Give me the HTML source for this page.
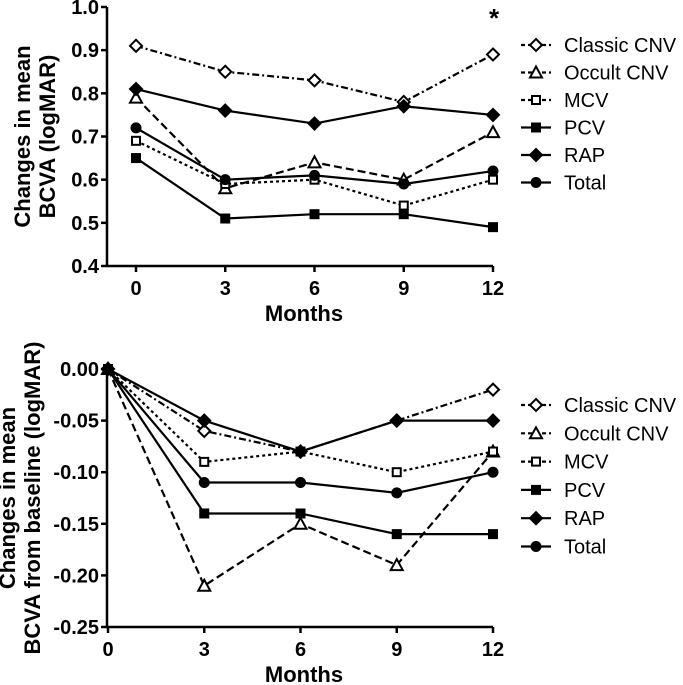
<!DOCTYPE html>
<html><head><meta charset="utf-8"><style>
body{margin:0;background:#fff;}
svg{display:block;font-family:"Liberation Sans",Arial,sans-serif;}
</style></head><body>
<svg id="c" width="683" height="685"></svg>
<script>
const months=[0,3,6,9,12];
const seriesNames=["Classic CNV","Occult CNV","MCV","PCV","RAP","Total"];
const topClassic=[0.91,0.85,0.83,0.78,0.89];
const topOccult=[0.79,0.58,0.64,0.60,0.71];
const topMCV=[0.69,0.59,0.60,0.54,0.60];
const topPCV=[0.65,0.51,0.52,0.52,0.49];
const topRAP=[0.81,0.76,0.73,0.77,0.75];
const topTotal=[0.72,0.60,0.61,0.59,0.62];
const botClassic=[0,-0.06,-0.08,-0.05,-0.02];
const botOccult=[0,-0.21,-0.15,-0.19,-0.08];
const botMCV=[0,-0.09,-0.08,-0.10,-0.08];
const botPCV=[0,-0.14,-0.14,-0.16,-0.16];
const botRAP=[0,-0.05,-0.08,-0.05,-0.05];
const botTotal=[0,-0.11,-0.11,-0.12,-0.10];
const topTicks=["0.4","0.5","0.6","0.7","0.8","0.9","1.0"];
const botTicks=["0.00","-0.05","-0.10","-0.15","-0.20","-0.25"];

const NS="http://www.w3.org/2000/svg";
const svg=document.getElementById('c');
function el(tag,attrs,parent,text){const e=document.createElementNS(NS,tag);for(const k in attrs)e.setAttribute(k,attrs[k]);if(text!==undefined)e.textContent=text;(parent||svg).appendChild(e);return e;}
const styles=[
 {dash:"7,3,2,3",marker:"diamond",fill:"#fff"},
 {dash:"8,4",marker:"triangle",fill:"#fff"},
 {dash:"3,3",marker:"square",fill:"#fff"},
 {dash:"",marker:"square",fill:"#000"},
 {dash:"",marker:"diamond",fill:"#000"},
 {dash:"",marker:"circle",fill:"#000"}];
function marker(g,type,x,y,fill){
 const a={fill:fill,stroke:"#000","stroke-width":2};
 if(type==="diamond"){const s=6;el('polygon',Object.assign({points:`${x},${y-s} ${x+s},${y} ${x},${y+s} ${x-s},${y}`},a),g);}
 else if(type==="triangle"){el('polygon',Object.assign({points:`${x},${y-6} ${x+6},${y+5} ${x-6},${y+5}`},a),g);}
 else if(type==="square"){const s=4;el('rect',Object.assign({x:x-s,y:y-s,width:2*s,height:2*s},a),g);}
 else el('circle',Object.assign({cx:x,cy:y,r:4.5},a),g);
}
function chart(o){
 const g=el('g',{});
 
 
 const xs=v=>o.x0+(v-0)/12*(o.x1-o.x0);
 const ys=v=>o.y0+(v-o.vmin)/(o.vmax-o.vmin)*(o.y1-o.y0);
 const ax=el('g',{},g);
 el('line',{x1:o.ax,y1:ys(o.vmax),x2:o.ax,y2:ys(o.vmin),stroke:"#000","stroke-width":2.5},ax);
 o.ticks.forEach(t=>{const v=parseFloat(t);const y=ys(v);
  el('line',{x1:o.ax-6,y1:y,x2:o.ax,y2:y,stroke:"#000","stroke-width":2.5},ax);
  const tx=el('text',{x:o.ax-8,y:y+7,"text-anchor":"end","font-size":20,"font-weight":"bold"},ax,t);
  });
 const xa=el('g',{},g);
 const by=ys(o.vmin);
 el('line',{x1:o.ax,y1:by,x2:xs(12),y2:by,stroke:"#000","stroke-width":2.5},xa);
 months.forEach(m=>{el('line',{x1:xs(m),y1:by,x2:xs(m),y2:by+6,stroke:"#000","stroke-width":2.5},xa);
  const tx=el('text',{x:xs(m),y:by+29,"text-anchor":"middle","font-size":20,"font-weight":"bold"},xa,String(m));
  });
 const xt=el('text',{x:(o.ax+xs(12))/2+4,y:by+55,"text-anchor":"middle","font-size":22,"font-weight":"bold"},g,"Months");
 
 const yt=el('text',{transform:`translate(${o.ytx},${(ys(o.vmax)+by)/2}) rotate(-90)`,"text-anchor":"middle","font-size":22,"font-weight":"bold"},g);
 
 el('tspan',{x:0,dy:0},yt,o.title[0]);el('tspan',{x:0,dy:25},yt,o.title[1]);
 o.data.forEach((d,i)=>{const s=styles[i];
  const sg=el('g',{},g);
  el('polyline',{points:d.map((v,j)=>xs(months[j])+","+ys(v)).join(" "),fill:"none",stroke:"#000","stroke-width":2.2,"stroke-dasharray":s.dash},sg);
  d.forEach((v,j)=>marker(sg,s.marker,xs(months[j]),ys(v),s.fill));});
 const lg=el('g',{},g);
 seriesNames.forEach((n,i)=>{const s=styles[i];const y=o.ly+i*o.ld;
  const eg=el('g',{},lg);
  el('line',{x1:521,y1:y,x2:551,y2:y,stroke:"#000","stroke-width":2.2,"stroke-dasharray":s.dash?"4,3":""},eg);
  marker(eg,s.marker,536,y,s.fill);
  el('text',{x:564,y:y+7,"font-size":20},eg,n);});
}
chart({name:"top-chart",x0:136,x1:493,ax:107,y0:266,y1:7,vmin:0.4,vmax:1.0,ticks:topTicks,
 title:["Changes in mean","BCVA (logMAR)"],ytx:30,ly:45,ld:27.5,
 data:[topClassic,topOccult,topMCV,topPCV,topRAP,topTotal]});
const star=el('text',{x:494,y:27,"text-anchor":"middle","font-size":26,"font-weight":"bold"},svg,"*");

chart({name:"bottom-chart",x0:108,x1:493,ax:107,y0:627,y1:369,vmin:-0.25,vmax:0,ticks:botTicks,
 title:["Changes in mean","BCVA from baseline (logMAR)"],ytx:15,ly:405,ld:28.3,
 data:[botClassic,botOccult,botMCV,botPCV,botRAP,botTotal]});
</script>
</body></html>
